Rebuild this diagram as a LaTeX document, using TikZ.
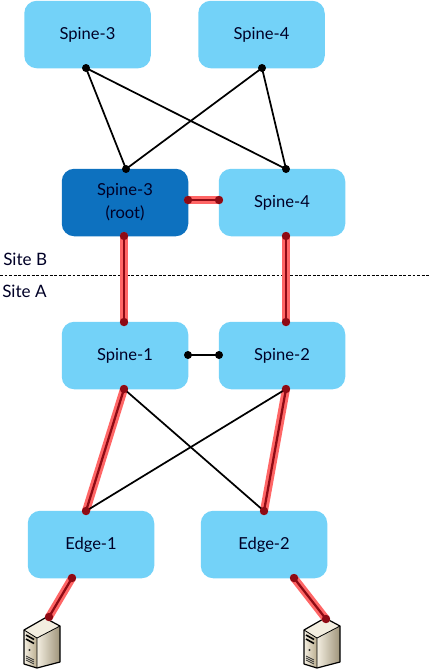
\documentclass[tikz,border=0pt]{standalone}
\usepackage{fontspec}
\setmainfont{Lato}
\definecolor{boxlight}{HTML}{73D2F8}
\definecolor{boxdark}{HTML}{0D71BF}
\definecolor{halo}{HTML}{FF6666}
\definecolor{core}{HTML}{8E0A14}
\definecolor{srvA}{HTML}{F3EEE0}
\definecolor{srvB}{HTML}{E4DCC6}
\definecolor{srvC}{HTML}{BBAE90}
\tikzset{
  netbox/.style={draw=none,fill=boxlight,rounded corners=12.5pt*0.75,minimum width=126.5*0.75pt,minimum height=67.5*0.75pt,inner sep=0pt,font=\fontsize{12.4}{17.25}\selectfont,text=black!85!blue,align=center},
  rootbox/.style={netbox,fill=boxdark},
  bdot/.style={circle,fill=black,inner sep=0pt,minimum size=6pt},
  rdot/.style={circle,fill=core,inner sep=0pt,minimum size=6.3pt},
  plain/.style={draw=black,line width=1.3pt},
  sitelabel/.style={anchor=west,inner sep=0pt,font=\fontsize{12.8}{14}\selectfont,text=black!85!blue},
}
\newcommand{\redlink}[2]{%
  \draw[halo,line width=6pt,line cap=round] (#1) -- (#2);
  \draw[core,line width=1.7pt] (#1) -- (#2);
}
\newcommand{\serverat}[2]{%
  \begin{scope}[shift={(#1,#2)},line join=round]
    \shade[left color=srvA,right color=srvC] (24,630) -- (37,638) -- (37,668) -- (24,664) -- cycle;
    \shade[left color=srvA,right color=srvC!85!black] (37,638) -- (60,626) -- (60,662) -- (37,668) -- cycle;
    \fill[srvA] (24,630) -- (45,618) -- (60,626) -- (37,638) -- cycle;
    \draw[black,line width=0.9pt] (24,630) -- (45,618) -- (60,626) -- (60,662) -- (37,668) -- (24,664) -- cycle;
    \draw[black,line width=0.6pt] (24,630) -- (37,638) -- (60,626) (37,638) -- (37,668);
    \draw[black,line width=1.2pt] (26,635) -- (34,639.5) (26,639) -- (34,643.5);
    \fill[black!80] (29.5,650) circle (1.2);
    \draw[black!80,line width=0.6pt] (26,656) -- (34,660) (26,658) -- (34,662) (26,660) -- (34,664);
  \end{scope}
}
\begin{document}
\begin{tikzpicture}[x=0.75pt,y=-0.75pt]
\useasboundingbox (0,0) rectangle (430,669);

\node[netbox] (topA) at (87.5,34.5) {Spine-3};
\node[netbox] (topB) at (261.5,34.5) {Spine-4};
\node[rootbox] (root) at (125,202.5) {Spine-3\\(root)};
\node[netbox] (midB) at (282,202.5) {Spine-4};
\node[netbox] (sp1) at (125,355.5) {Spine-1};
\node[netbox] (sp2) at (282,355.5) {Spine-2};
\node[netbox] (ed1) at (91,544.5) {Edge-1};
\node[netbox] (ed2) at (264,544.5) {Edge-2};

\node[sitelabel] (siteB) at (3,259) {Site B};
\node[sitelabel] (siteA) at (2,291) {Site A};
\coordinate (dashL) at (0,275);
\coordinate (dashR) at (430,275);
\draw[black,line width=0.7pt,dash pattern=on 2.2pt off 1.2pt] (dashL) -- (dashR);

\serverat{0}{0}
\serverat{280}{0}

\coordinate (pTopA) at (86,68);
\coordinate (pTopB) at (262,68);
\coordinate (pRootT) at (126,169);
\coordinate (pMidT) at (286,169);
\coordinate (pRootR) at (188,200);
\coordinate (pMidL) at (219,200);
\coordinate (pRootB) at (124,236);
\coordinate (pMidB) at (286,236);
\coordinate (pS1T) at (124,322);
\coordinate (pS2T) at (286,322);
\coordinate (pS1R) at (188,355);
\coordinate (pS2L) at (219,355);
\coordinate (pS1B) at (124,389);
\coordinate (pS2B) at (286,389);
\coordinate (pE1T) at (86,511);
\coordinate (pE2T) at (264,511);
\coordinate (pE1B) at (72,578);
\coordinate (pE2B) at (294,578);
\coordinate (pSrv1) at (49,617);
\coordinate (pSrv2) at (326,619);

\draw[plain] (pTopA) -- (pRootT);
\draw[plain] (pTopA) -- (pMidT);
\draw[plain] (pTopB) -- (pRootT);
\draw[plain] (pTopB) -- (pMidT);
\draw[plain] (pS1R) -- (pS2L);
\redlink{pRootR}{pMidL}
\redlink{pRootB}{pS1T}
\redlink{pMidB}{pS2T}
\redlink{pS1B}{pE1T}
\redlink{pS2B}{pE2T}
\draw[plain] (pS1B) -- (pE2T);
\draw[plain] (pS2B) -- (pE1T);
\redlink{pE1B}{pSrv1}
\redlink{pE2B}{pSrv2}

\foreach \p in {pTopA,pTopB,pRootT,pMidT,pS1R,pS2L}
  \node[bdot] at (\p) {};
\foreach \p in {pRootR,pMidL,pRootB,pMidB,pS1T,pS2T,pS1B,pS2B,pE1T,pE2T,pE1B,pE2B,pSrv1,pSrv2}
  \node[rdot] at (\p) {};
\end{tikzpicture}
\end{document}
